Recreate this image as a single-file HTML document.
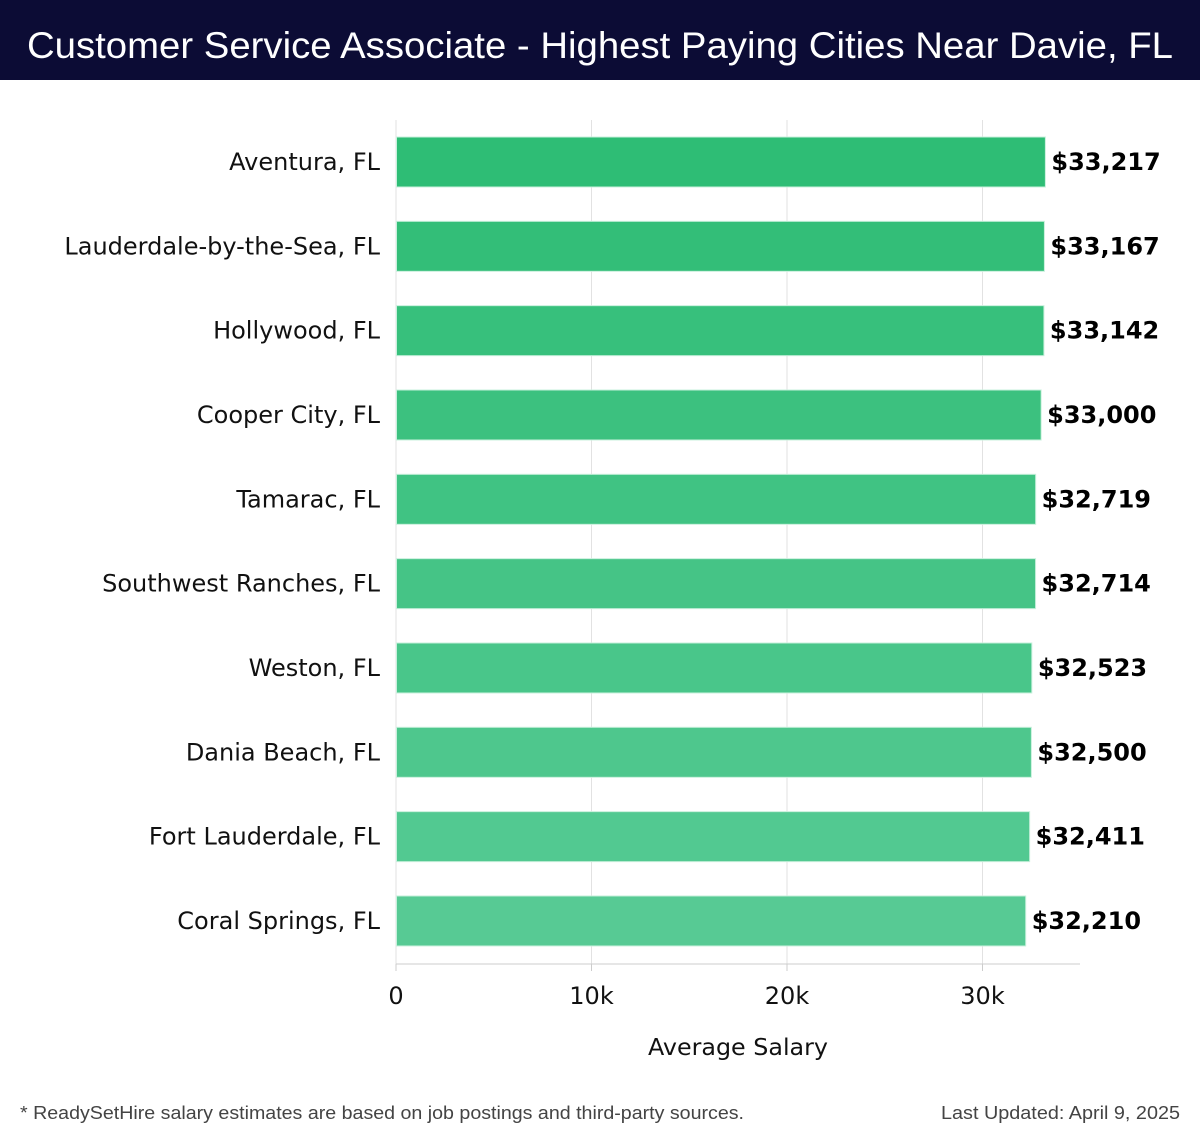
<!DOCTYPE html>
<html><head><meta charset="utf-8"><style>
html,body{margin:0;padding:0;background:#fff;width:1200px;height:1140px;overflow:hidden}
svg{display:block}
</style></head><body>
<svg id="chart" width="1200" height="1140" viewBox="0 0 1200 1140" xmlns="http://www.w3.org/2000/svg">
<rect x="0" y="0" width="1200" height="80" fill="#0c0c35"/>
<text x="27" y="58" fill="#ffffff" font-family="'Liberation Sans',sans-serif" font-size="37" textLength="1146" lengthAdjust="spacingAndGlyphs">Customer Service Associate - Highest Paying Cities Near Davie, FL</text>
<g id="grid"></g>
<g id="bars"></g>
<g id="axis"></g>
<text x="738" y="1055" text-anchor="middle" fill="#111" font-family="'DejaVu Sans',sans-serif" font-size="23" textLength="180" lengthAdjust="spacingAndGlyphs">Average Salary</text>
<text x="20" y="1119" fill="#444" font-family="'Liberation Sans',sans-serif" font-size="18" textLength="724" lengthAdjust="spacingAndGlyphs">* ReadySetHire salary estimates are based on job postings and third-party sources.</text>
<text x="1180" y="1119" text-anchor="end" fill="#444" font-family="'Liberation Sans',sans-serif" font-size="18" textLength="239" lengthAdjust="spacingAndGlyphs">Last Updated: April 9, 2025</text>
</svg>
<script>
const cities = ["Aventura, FL","Lauderdale-by-the-Sea, FL","Hollywood, FL","Cooper City, FL","Tamarac, FL","Southwest Ranches, FL","Weston, FL","Dania Beach, FL","Fort Lauderdale, FL","Coral Springs, FL"];
const salaries = [33217,33167,33142,33000,32719,32714,32523,32500,32411,32210];
const valueLabels = ["$33,217","$33,167","$33,142","$33,000","$32,719","$32,714","$32,523","$32,500","$32,411","$32,210"];
const ticks = [0,10000,20000,30000];
const tickLabels = ["0","10k","20k","30k"];

const NS="http://www.w3.org/2000/svg";
const plotX0=396, pxPerUnit=19.55/1000, axisEnd=1080, plotTop=120, plotBottom=964;
const firstY=162, stepY=84.33, barH=50;
function xs(v){return plotX0+v*pxPerUnit;}
function yc(i){return firstY+i*stepY;}
function mk(tag,attrs,parent){const e=document.createElementNS(NS,tag);for(const k in attrs)e.setAttribute(k,attrs[k]);parent.appendChild(e);return e;}
const gridG=document.getElementById('grid'),barsG=document.getElementById('bars'),axisG=document.getElementById('axis');
ticks.forEach((t,i)=>{
  const g=mk('line',{x1:xs(t),x2:xs(t),y1:plotTop,y2:plotBottom,stroke:'#e2e2e2','stroke-width':1},gridG);
  
  
  const tk=mk('line',{x1:xs(t),x2:xs(t),y1:plotBottom,y2:plotBottom+7,stroke:'#ccc','stroke-width':1},axisG);
  
  
  const tl=mk('text',{x:xs(t),y:1004,'text-anchor':'middle',fill:'#111','font-family':"'DejaVu Sans',sans-serif",'font-size':24},axisG);
  tl.textContent=tickLabels[i];
  
  
});
const al=mk('line',{x1:plotX0,x2:axisEnd,y1:plotBottom,y2:plotBottom,stroke:'#ccc','stroke-width':1},axisG);


const c1=[46,189,117],c2=[87,202,148];
cities.forEach((c,i)=>{
  const f=i/(cities.length-1);
  const col='rgb('+c1.map((v,k)=>Math.round(v+(c2[k]-v)*f)).join(',')+')';
  const y=yc(i);
  const r=mk('rect',{x:plotX0+0.5,y:y-barH/2,width:xs(salaries[i])-plotX0-0.5,height:barH,fill:col,stroke:'#c8f0dc','stroke-width':1},barsG);
  
  
  const lb=mk('text',{x:380,y:y+8,'text-anchor':'end',fill:'#111','font-family':"'DejaVu Sans',sans-serif",'font-size':24},barsG);
  lb.textContent=c;
  
  
  const vl=mk('text',{x:xs(salaries[i])+6,y:y+8,fill:'#000','font-family':"'DejaVu Sans',sans-serif",'font-size':24,'font-weight':'bold'},barsG);
  vl.textContent=valueLabels[i];
  
  
});
</script>
</body></html>
